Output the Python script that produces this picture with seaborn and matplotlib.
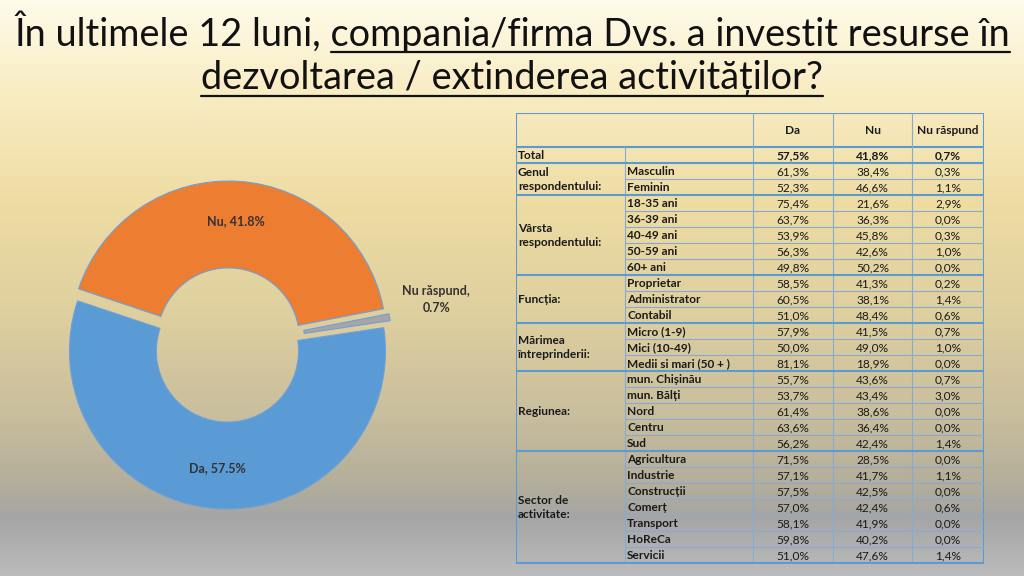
import numpy as np
import matplotlib
matplotlib.use("Agg")
import matplotlib.pyplot as plt
import seaborn as sns
from matplotlib.colors import LinearSegmentedColormap
from matplotlib.lines import Line2D
from matplotlib import font_manager

# ---------------- data ----------------
title_prefix = "În ultimele 12 luni, "
title_line1 = "compania/firma Dvs. a investit resurse în"
title_line2 = "dezvoltarea / extinderea activităților?"

pie_labels = ["Da", "Nu", "Nu răspund"]
pie_values = [57.5, 41.8, 0.7]
pie_colors = ["#5B9BD5", "#ED7D31", "#A5A5A5"]

header = ["Da", "Nu", "Nu răspund"]
groups = ["Total", "Genul\nrespondentului:", "Vârsta\nrespondentului:", "Funcția:",
          "Mărimea\nîntreprinderii:", "Regiunea:", "Sector de\nactivitate:"]
subcats = [[""],
           ["Masculin", "Feminin"],
           ["18-35 ani", "36-39 ani", "40-49 ani", "50-59 ani", "60+ ani"],
           ["Proprietar", "Administrator", "Contabil"],
           ["Micro (1-9)", "Mici (10-49)", "Medii si mari (50 + )"],
           ["mun. Chișinău", "mun. Bălți", "Nord", "Centru", "Sud"],
           ["Agricultura", "Industrie", "Construcții", "Comerț", "Transport", "HoReCa", "Servicii"]]
da = [57.5, 61.3, 52.3, 75.4, 63.7, 53.9, 56.3, 49.8, 58.5, 60.5, 51.0, 57.9, 50.0, 81.1,
      55.7, 53.7, 61.4, 63.6, 56.2, 71.5, 57.1, 57.5, 57.0, 58.1, 59.8, 51.0]
nu = [41.8, 38.4, 46.6, 21.6, 36.3, 45.8, 42.6, 50.2, 41.3, 38.1, 48.4, 41.5, 49.0, 18.9,
      43.6, 43.4, 38.6, 36.4, 42.4, 28.5, 41.7, 42.5, 42.4, 41.9, 40.2, 47.6]
nr = [0.7, 0.3, 1.1, 2.9, 0.0, 0.3, 1.0, 0.0, 0.2, 1.4, 0.6, 0.7, 1.0, 0.0,
      0.7, 3.0, 0.0, 0.0, 1.4, 0.0, 1.1, 0.0, 0.6, 0.0, 0.0, 1.4]

# ---------------- style ----------------
sns.set_theme(style="white")
plt.rcParams['font.family'] = ['Lato', 'DejaVu Sans']
installed = {f.name for f in font_manager.fontManager.ttflist}
title_family = ['Liberation Sans Narrow', 'Lato', 'DejaVu Sans'] \
    if 'Liberation Sans Narrow' in installed else ['Lato', 'DejaVu Sans']
W, H = 1024, 576
fig = plt.figure(figsize=(W / 100, H / 100), dpi=100)

# background gradient
bg = fig.add_axes([0, 0, 1, 1], zorder=-10)
grad = np.linspace(0, 1, 576).reshape(-1, 1)
cmap = LinearSegmentedColormap.from_list(
    "bg", [(0, "#FFFBEA"), (0.15, "#F9EDC5"), (0.35, "#EEDCA2"), (0.55, "#DECF9F"),
           (0.72, "#C9BE9D"), (0.85, "#B2AD9B"), (0.9, "#A5A5A5"), (1, "#BBBBBB")])
bg.imshow(grad, aspect='auto', cmap=cmap, extent=[0, 1, 0, 1], origin='upper')
bg.axis('off')

# ---------------- title ----------------
renderer = fig.canvas.get_renderer()
tcolor = "#111111"


def textwidth(s, size):
    t = fig.text(0, 0, s, fontsize=size, family=title_family)
    w = t.get_window_extent(renderer).width
    t.remove()
    return w


full1 = title_prefix + title_line1
base = 30
w1 = textwidth(full1, base)
fs = min(base * 995 / w1, 28)
t1 = fig.text(0.5, 1 - 46 / H, full1, fontsize=fs, ha='center', va='baseline', color=tcolor,
              family=title_family)
t2 = fig.text(0.5, 1 - 89 / H, title_line2, fontsize=fs, ha='center', va='baseline', color=tcolor,
              family=title_family)
fig.canvas.draw()
e1 = t1.get_window_extent(renderer)
e2 = t2.get_window_extent(renderer)
pre = textwidth(title_prefix + "x", fs) - textwidth("x", fs)
ul_y1 = 1 - 52 / H
ul_y2 = 1 - 96 / H
fig.add_artist(Line2D([(e1.x0 + pre) / W, e1.x1 / W], [ul_y1, ul_y1], color=tcolor, lw=1.6))
fig.add_artist(Line2D([e2.x0 / W, e2.x1 / W], [ul_y2, ul_y2], color=tcolor, lw=1.6))

# ---------------- donut ----------------
cx, cy, half = 228, 345, 197.5
ax = fig.add_axes([(cx - half) / W, (H - cy - half) / H, 2 * half / W, 2 * half / H])
wedges, _ = ax.pie(pie_values, colors=pie_colors, startangle=8.5, counterclock=False,
                   explode=[0.038] * 3, radius=1,
                   wedgeprops=dict(width=0.55, edgecolor='#6FA0D8', linewidth=0.8))
ax.set_xlim(-1.25, 1.25)
ax.set_ylim(-1.25, 1.25)
ax.set_aspect('equal')
ax.axis('off')
for w, lab, val in zip(wedges, pie_labels, pie_values):
    th = np.deg2rad((w.theta1 + w.theta2) / 2)
    wx, wy = w.center
    if val < 5:
        r = 1.3
        txt = f"{lab},\n{val:.1f}%"
        ax.text(wx + r * np.cos(th), wy + r * np.sin(th) + 0.06, txt, ha='center', va='center',
                fontsize=9, fontweight='bold', color='#333333', linespacing=1.5, clip_on=False)
    else:
        r = 0.745
        txt = f"{lab}, {val:.1f}%"
        ax.text(wx + r * np.cos(th), wy + r * np.sin(th), txt, ha='center', va='center',
                fontsize=9, fontweight='bold', color='#333333')

# ---------------- table ----------------
x0, x1 = 516, 984
y_top, y_head = 113, 147
row_h = 16
col_edges = [516, 625, 753, 833, 912, 984]
n_rows = len(da)
y_bot = y_head + n_rows * row_h
tax = fig.add_axes([x0 / W, (H - y_bot - 1) / H, (x1 - x0) / W, (y_bot + 1 - y_top) / H])
tax.set_xlim(x0, x1)
tax.set_ylim(y_bot + 1, y_top)
tax.axis('off')
tax.patch.set_alpha(0)

major = dict(color='#5B9BD5', lw=1.5, solid_capstyle='butt')
minor = dict(color='#86ABD3', lw=0.8, solid_capstyle='butt')

tax.plot([x0, x1], [y_top, y_top], **major)
tax.plot([x0, x1], [y_head, y_head], **major)
tax.plot([x0, x0], [y_top, y_bot], **major)
tax.plot([x1, x1], [y_top, y_bot], **major)
for xe in col_edges[2:-1]:
    tax.plot([xe, xe], [y_top, y_bot], **minor)
tax.plot([col_edges[1], col_edges[1]], [y_head, y_bot], **minor)

txtc = '#1a1a1a'
fsz = 8.6
for j, h in enumerate(header):
    xc = (col_edges[j + 2] + col_edges[j + 3]) / 2
    tax.text(xc, (y_top + y_head) / 2 + 1, h, ha='center', va='center', fontsize=fsz,
             fontweight='bold', color=txtc)


def fmt(v):
    return f"{v:.1f}%".replace('.', ',')


r = 0
for g, subs in zip(groups, subcats):
    gy0 = y_head + r * row_h
    gy1 = gy0 + len(subs) * row_h
    tax.text(col_edges[0] + 2, (gy0 + gy1) / 2 + 0.5, g, ha='left', va='center', fontsize=fsz,
             fontweight='bold', color=txtc, linespacing=1.35)
    for k, s in enumerate(subs):
        ry0 = y_head + r * row_h
        ym = ry0 + row_h / 2 + 0.5
        bold = g == "Total"
        tax.text(col_edges[1] + 2, ym, s, ha='left', va='center', fontsize=fsz,
                 fontweight='bold', color=txtc)
        for j, arr in enumerate([da, nu, nr]):
            xc = (col_edges[j + 2] + col_edges[j + 3]) / 2
            tax.text(xc, ym, fmt(arr[r]), ha='center', va='center', fontsize=fsz,
                     fontweight='bold' if bold else 'normal', color=txtc)
        yb = ry0 + row_h
        if k == len(subs) - 1:
            tax.plot([x0, x1], [yb, yb], **major)
        else:
            tax.plot([col_edges[1], x1], [yb, yb], **minor)
        r += 1

fig.savefig("out.png", dpi=100)
